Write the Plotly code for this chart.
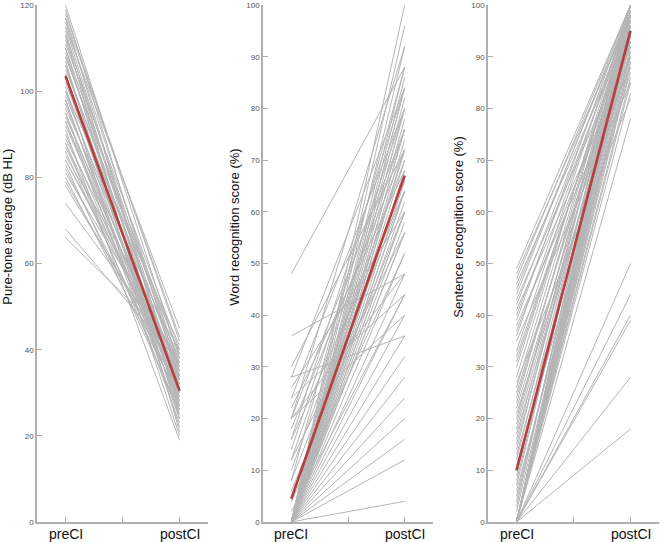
import plotly.graph_objects as go

# ---------------- data ----------------
timepoints = ["preCI", "postCI"]

pta_pre = [120, 119, 118, 117, 116, 115, 115, 114, 113, 112, 111, 110, 110, 109, 108, 107, 106, 106, 105, 104,
           104, 103, 102, 101, 100, 100, 99, 98, 97, 96, 95, 95, 94, 93, 92, 91, 90, 89, 88, 87,
           86, 85, 84, 83, 82, 81, 80, 79, 78, 74, 68, 66, 117, 113, 108, 103, 98, 93, 88, 84]
pta_post = [38, 33, 42, 28, 36, 30, 45, 26, 35, 31, 40, 24, 34, 29, 37, 22, 33, 27, 39, 30,
            25, 36, 32, 20, 28, 41, 34, 26, 31, 38, 23, 29, 35, 27, 33, 19, 30, 36, 25, 32,
            28, 40, 34, 26, 30, 37, 29, 33, 35, 38, 37, 40, 43, 21, 39, 27, 24, 32, 31, 36]
pta_center = [103.5, 30.5]

word_pre = [0, 0, 0, 0, 0, 0, 0, 0, 0, 0, 0, 0, 0, 0, 0, 0, 0, 0, 0, 0,
            0, 0, 0, 0, 0, 0, 0, 0, 0, 0, 0, 0, 0, 0, 0, 0, 0, 0, 0, 0,
            2, 4, 4, 6, 8, 8, 10, 12, 12, 14, 16, 16, 18, 20, 20, 20, 22, 24, 24, 26,
            28, 28, 36, 48, 30, 20]
word_post = [4, 12, 16, 20, 24, 28, 32, 36, 40, 44, 48, 52, 56, 60, 64, 68, 72, 76, 80, 84,
             88, 92, 96, 100, 60, 68, 72, 76, 80, 84, 56, 64, 70, 74, 78, 82, 66, 62, 58, 86,
             44, 52, 72, 60, 64, 88, 70, 76, 56, 80, 84, 64, 72, 48, 76, 92, 68, 44, 80, 60,
             84, 36, 48, 88, 72, 40]
word_center = [4.5, 67]

sent_pre = [0, 0, 0, 0, 0, 0, 0, 0, 0, 0, 0, 0, 0, 0, 0, 0, 0, 0, 0, 0,
            0, 0, 0, 0, 2, 3, 4, 5, 7, 8, 9, 10, 12, 14, 15, 16, 18, 19, 20, 22,
            23, 24, 26, 28, 30, 32, 33, 36, 37, 39, 40, 42, 44, 45, 46, 47, 48, 49, 41, 38,
            35, 27, 21, 17, 13, 11, 6, 25, 31, 43]
sent_post = [18, 28, 39, 40, 44, 50, 78, 83, 85, 88, 90, 92, 94, 96, 98, 100, 100, 97, 95, 99,
             93, 91, 89, 86, 96, 100, 98, 94, 99, 97, 100, 95, 98, 100, 96, 99, 97, 100, 98, 94,
             100, 97, 99, 100, 98, 96, 100, 99, 92, 100, 97, 98, 100, 99, 96, 100, 98, 100, 90, 88,
             85, 82, 90, 93, 91, 87, 89, 95, 97, 93]
sent_center = [10, 95]

titles = ["Pure-tone average (dB HL)", "Word recognition score (%)", "Sentence recognition score (%)"]
ymax = [120, 100, 100]
ydticks = [20, 10, 10]

# ---------------- figure ----------------
GRAY = "#b5b5b5"
RED = "#b3403d"
AXIS = "#b0b0b0"
FONT = "Liberation Sans, Arial, sans-serif"

fig = go.Figure()
xnum = [1, 2]

panels = [(pta_pre, pta_post, pta_center), (word_pre, word_post, word_center), (sent_pre, sent_post, sent_center)]
for i, (pre, post, center) in enumerate(panels):
    xs, ys = [], []
    for a, b in zip(pre, post):
        xs += [1, 2, None]
        ys += [a, b, None]
    ax = "" if i == 0 else str(i + 1)
    fig.add_trace(go.Scatter(x=xs, y=ys, mode="lines", line=dict(color=GRAY, width=1),
                             xaxis="x" + ax, yaxis="y" + ax, showlegend=False, hoverinfo="skip"))
    fig.add_trace(go.Scatter(x=xnum, y=center, mode="lines", line=dict(color=RED, width=2.6),
                             xaxis="x" + ax, yaxis="y" + ax, showlegend=False))

W, H = 660, 542
ml, mr, mt, mb = 37, 1, 3, 20
pw = W - ml - mr
ph = H - mt - mb
px_domains = [(37, 208), (263, 433), (488, 659)]
domains = [((a - ml) / pw, (b - ml) / pw) for a, b in px_domains]
title_y = (H - mb - 226) / ph
title_shift = [-29.5, -28.5, -29.5]

layout = dict(width=W, height=H, margin=dict(l=ml, r=mr, t=mt, b=mb),
              plot_bgcolor="white", paper_bgcolor="white",
              font=dict(family=FONT, color="#222"))
annotations = []
for i in range(3):
    ax = "" if i == 0 else str(i + 1)
    layout["xaxis" + ax] = dict(domain=list(domains[i]), range=[0.75, 2.25], anchor="y" + ax,
                                tickmode="array", tickvals=[1, 1.5, 2], showticklabels=False,
                                ticks="inside", ticklen=5, tickcolor=AXIS, tickwidth=1,
                                showline=True, linecolor=AXIS, linewidth=1.5, showgrid=False, zeroline=False)
    layout["yaxis" + ax] = dict(domain=[0, 1], range=[0, ymax[i] * 1.0002], anchor="x" + ax,
                                tickmode="array", tickvals=list(range(0, ymax[i] + 1, ydticks[i])),
                                ticks="inside", ticklen=5, tickcolor=AXIS, tickwidth=1,
                                ticklabeloverflow="allow",
                                showline=True, linecolor=AXIS, linewidth=1.5, showgrid=False, zeroline=False,
                                tickfont=dict(size=8, color="#555"))
    annotations.append(dict(text=titles[i], textangle=-90, xref="paper", yref="paper",
                            x=domains[i][0], y=title_y, xanchor="center", yanchor="middle",
                            xshift=title_shift[i], showarrow=False,
                            font=dict(size=13, color="#111", family=FONT)))
    for xv, lab in zip(xnum, timepoints):
        annotations.append(dict(text=lab, xref="x" + ax, yref="paper", x=xv, y=0,
                                xanchor="center", yanchor="middle", yshift=-12, showarrow=False,
                                font=dict(size=14, color="#111", family=FONT)))
layout["annotations"] = annotations
fig.update_layout(**layout)
fig.write_html("out.html", config={"displayModeBar": False},
               post_script="document.body.style.margin='0';document.body.style.padding='0';")
